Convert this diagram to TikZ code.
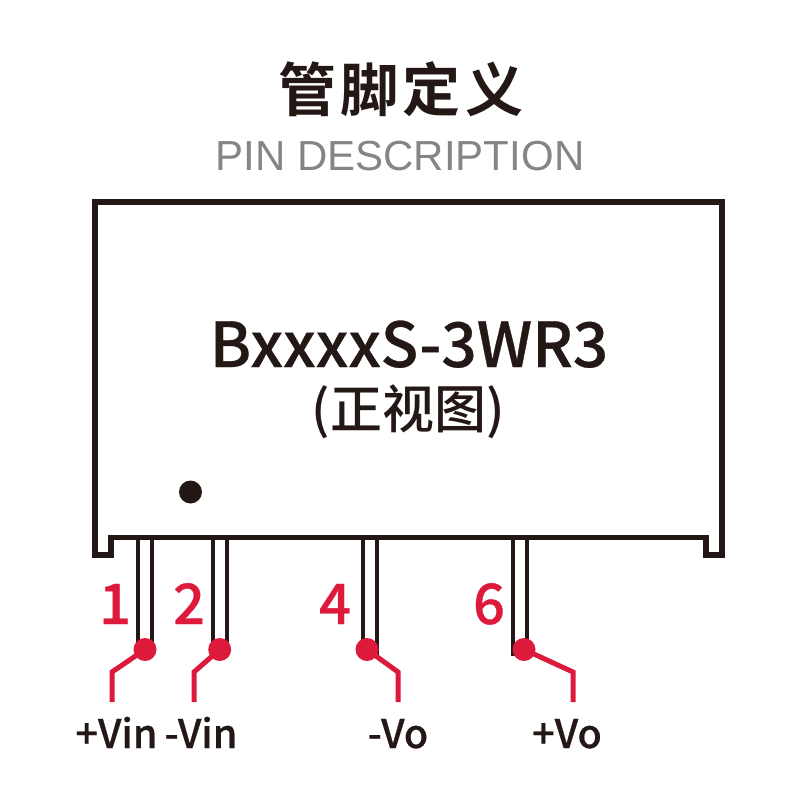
\documentclass[tikz,border=0pt]{standalone}
\usepackage{fontspec}
\setmainfont[UprightFont=* Medium]{Noto Sans CJK SC}
\newfontfamily\regularfont[UprightFont=* Medium]{Noto Sans CJK SC}
\newfontfamily\heavyfont[UprightFont=* Medium,FakeBold=0.5]{Noto Sans CJK SC}
\newfontfamily\titlefont[BoldFont=* Bold,LetterSpace=7]{Noto Sans CJK SC}
\newfontfamily\subfont{Liberation Sans}
\definecolor{ink}{HTML}{231815}
\definecolor{pinred}{HTML}{DE1A3C}
\definecolor{subgray}{HTML}{858585}
\newcommand{\fsz}[1]{\fontsize{#1pt}{#1pt}\selectfont}
\tikzset{
  x=1pt,y=-1pt,
  outline/.style={draw=ink,line width=5.5pt,line join=miter},
  pinline/.style={draw=ink,line width=4.5pt},
  wire/.style={draw=pinred,line width=5pt,line join=miter},
  reddot/.style={circle,fill=pinred,inner sep=0pt,minimum size=23pt},
  txt/.style={inner sep=0pt,anchor=base},
  pinnum/.style={txt,text=pinred,font=\heavyfont\fsz{56}},
  pinname/.style={txt,text=ink,font=\heavyfont\fsz{39.5}},
}
\begin{document}
\begin{tikzpicture}
\useasboundingbox (0,0) rectangle (800,800);
\fill[white] (0,0) rectangle (800,800);
\node[txt,text=ink] (title) at (401,111) {\titlefont\bfseries\fsz{58}管脚定义};
\node[txt,text=subgray] (sub) at (400,170) {\subfont\fsz{42}PIN DESCRIPTION};
\node[txt,text=ink,font=\heavyfont\fsz{62}] (model) at (409,367) {BxxxxS-3WR3};
\node[txt,text=ink] (view) at (408,428) {\regularfont\fsz{52}(正视图)};
\draw[outline] (95,202) -- (722,202) -- (722,555) -- (706,555) -- (706,537.5) -- (111,537.5) -- (111,555) -- (95,555) -- cycle;
\node[circle,fill=ink,inner sep=0pt,minimum size=23pt] (mark) at (190.5,492) {};
\foreach \n/\a/\b/\d in {1/138/152/145,2/213/227/219.7,4/363/377/367,6/513/527/524}{
  \coordinate (pa\n) at (\a,538);
  \coordinate (pb\n) at (\b,538);
  \coordinate (qa\n) at (\a,656);
  \coordinate (qb\n) at (\b,656);
  \draw[pinline] (pa\n) -- (qa\n);
  \draw[pinline] (pb\n) -- (qb\n);
  \node[reddot] (d\n) at (\d,649.5) {};
}
\coordinate (k1) at (112,672); \coordinate (e1) at (112,702);
\coordinate (k2) at (194,672); \coordinate (e2) at (194,702);
\coordinate (k4) at (398,672); \coordinate (e4) at (398,702);
\coordinate (k6) at (573,672); \coordinate (e6) at (573,702);
\foreach \n in {1,2,4,6}{ \draw[wire] (d\n.center) -- (k\n) -- (e\n); }
\node[pinnum] (n1) at (115,624) {1};
\node[pinnum] (n2) at (189,624) {2};
\node[pinnum] (n4) at (335,624) {4};
\node[pinnum] (n6) at (489,624) {6};
\node[pinname] (l1) at (116.5,748) {+Vin};
\node[pinname] (l2) at (201,748) {-Vin};
\node[pinname] (l4) at (398,748) {-Vo};
\node[pinname] (l6) at (567,748) {+Vo};
\end{tikzpicture}
\end{document}
